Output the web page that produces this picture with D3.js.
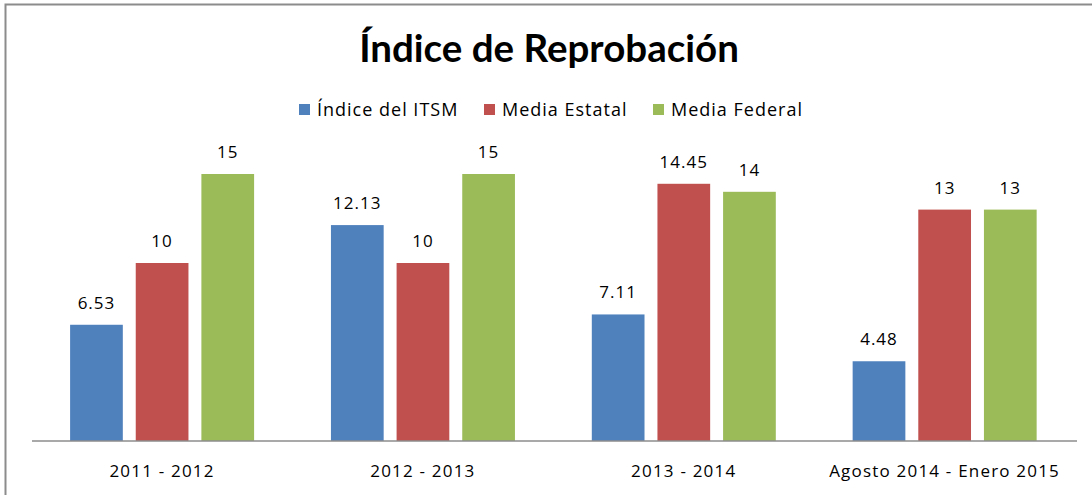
<!DOCTYPE html>
<html>
<head>
<meta charset="utf-8">
<script src="https://cdn.jsdelivr.net/npm/d3@7"></script>
<style>
  html, body { margin: 0; padding: 0; background: #fff; }
  svg { display: block; }
  text { fill: #000; }
</style>
</head>
<body>
<svg id="chart" width="1092" height="495"></svg>
<script>
const categories = ["2011 - 2012", "2012 - 2013", "2013 - 2014", "Agosto 2014 - Enero 2015"];
const seriesNames = ["Índice del ITSM", "Media Estatal", "Media Federal"];
const itsm = [6.53, 12.13, 7.11, 4.48];
const estatal = [10, 10, 14.45, 13];
const federal = [15, 15, 14, 13];
const labelsItsm = ["6.53", "12.13", "7.11", "4.48"];
const labelsEstatal = ["10", "10", "14.45", "13"];
const labelsFederal = ["15", "15", "14", "13"];
const colors = ["#4F81BD", "#C0504D", "#9BBB59"];
const title = "Índice de Reprobación";

const seriesValues = [itsm, estatal, federal];
const seriesLabels = [labelsItsm, labelsEstatal, labelsFederal];
const smallFont = "'Open Sans', Lato, sans-serif";

const svg = d3.select("#chart");

// outer frame
svg.append("rect")
  .attr("x", 5.5).attr("y", 4.5)
  .attr("width", 1200).attr("height", 600)
  .attr("fill", "none").attr("stroke", "#8c8c8c").attr("stroke-width", 2);

// title
svg.append("text")
  .attr("x", 549).attr("y", 62)
  .attr("text-anchor", "middle")
  .attr("font-family", "Lato, sans-serif")
  .attr("font-size", 38.5).attr("font-weight", "bold")
  .text(title);

const x0 = d3.scaleBand().domain(categories).range([31.6, 1075]).padding(0);
const x1 = d3.scaleBand().domain(seriesNames).range([38.5, 222.5]).paddingInner(0.197);
const y = d3.scaleLinear().domain([0, 15]).range([441, 174]);

// bars
const groups = svg.append("g").selectAll("g")
  .data(categories)
  .join("g")
  .attr("transform", d => `translate(${x0(d)},0)`);

seriesNames.forEach((s, si) => {
  groups.append("rect")
    .attr("x", x1(s))
    .attr("width", x1.bandwidth())
    .attr("y", (d, i) => y(seriesValues[si][i]))
    .attr("height", (d, i) => y(0) - y(seriesValues[si][i]))
    .attr("fill", colors[si]);
  groups.append("text")
    .attr("x", x1(s) + x1.bandwidth() / 2)
    .attr("y", (d, i) => y(seriesValues[si][i]) - 16)
    .attr("text-anchor", "middle")
    .attr("font-family", smallFont)
    .attr("font-size", 17)
    .attr("letter-spacing", 1)
    .text((d, i) => seriesLabels[si][i]);
});

// x axis
const xAxis = d3.axisBottom(x0).tickSize(0).tickPadding(0);
const ax = svg.append("g").attr("transform", "translate(0,441)").call(xAxis);
ax.attr("font-family", smallFont).attr("font-size", 17);
ax.select(".domain").attr("stroke", "#8c8c8c").attr("stroke-width", 1.5)
  .attr("d", "M32,0H1077");
ax.selectAll("text")
  .attr("fill", "#000")
  .attr("dy", null)
  .attr("y", 36)
  .attr("letter-spacing", 1.2);

// legend
const legendX = [299, 484, 653];
const leg = svg.append("g");
seriesNames.forEach((s, i) => {
  leg.append("rect")
    .attr("x", legendX[i]).attr("y", 104)
    .attr("width", 11).attr("height", 11)
    .attr("fill", colors[i]);
  leg.append("text")
    .attr("x", legendX[i] + 18).attr("y", 116)
    .attr("font-family", smallFont)
    .attr("font-size", 18)
    .attr("letter-spacing", 1)
    .text(s);
});
</script>
</body>
</html>
